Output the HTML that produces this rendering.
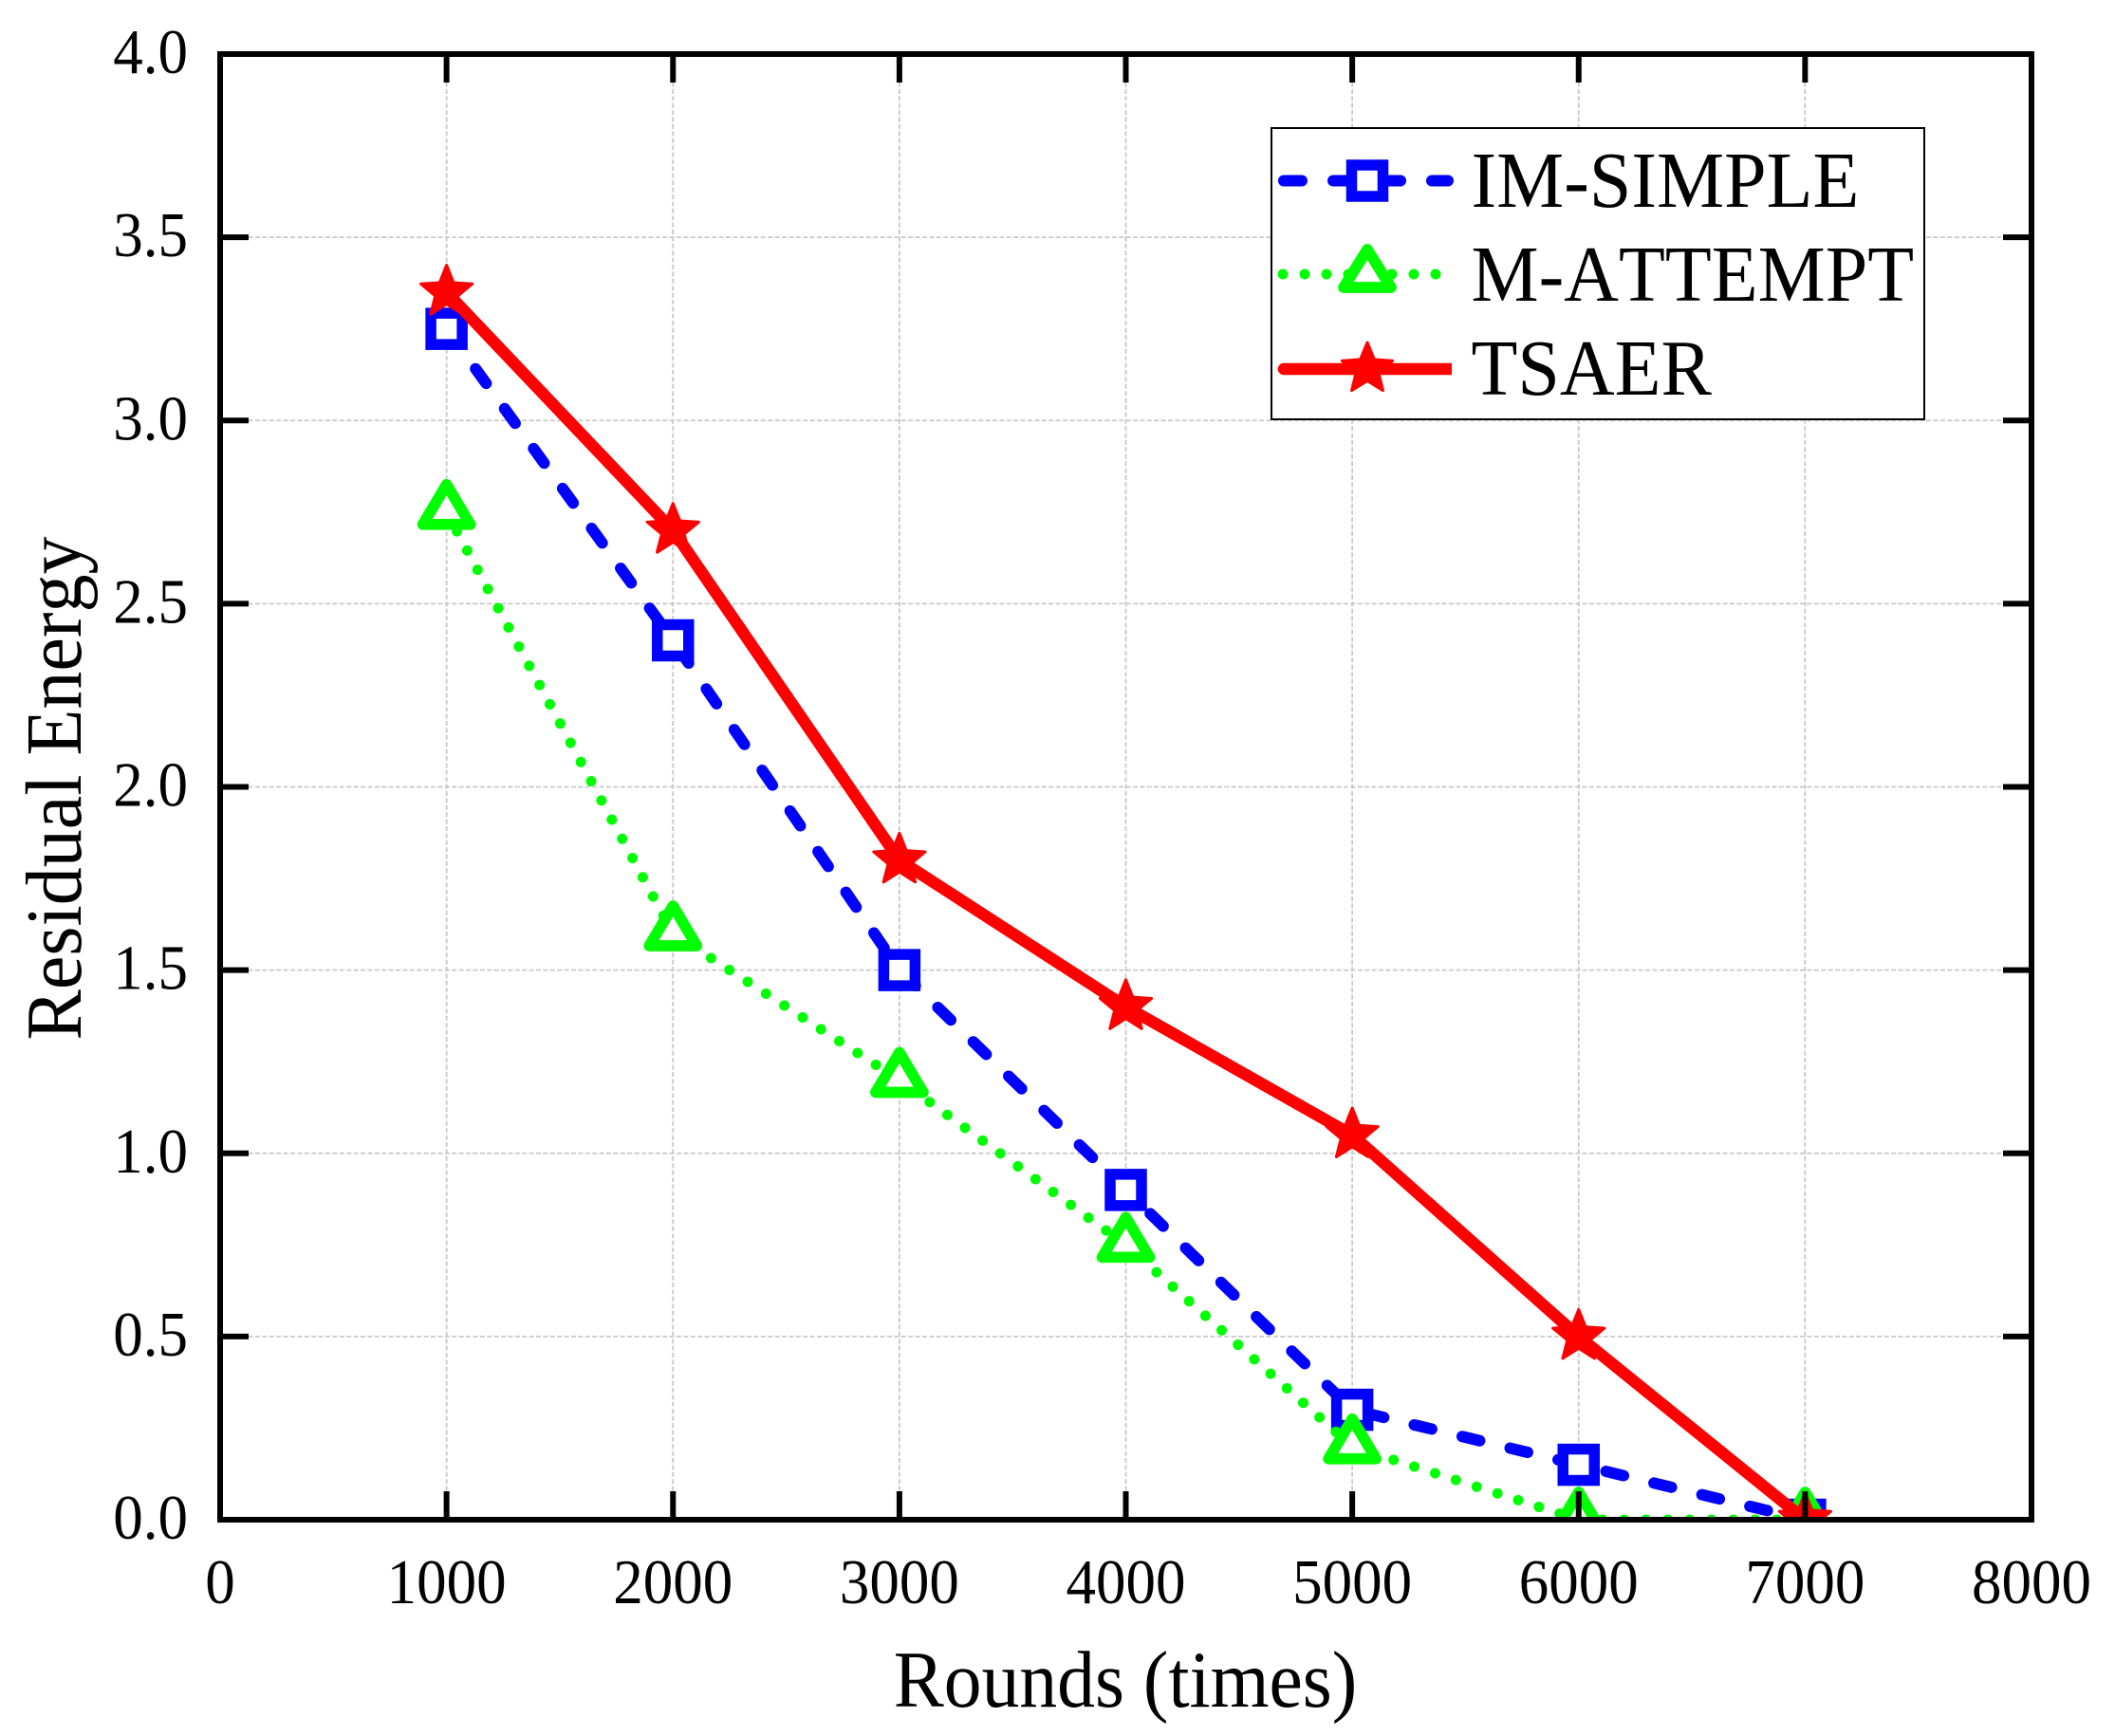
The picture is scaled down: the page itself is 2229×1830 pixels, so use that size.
<!DOCTYPE html>
<html lang="en">
<head>
<meta charset="utf-8">
<title>Residual Energy vs Rounds</title>
<style>
html,body{margin:0;padding:0;background:#fff}
svg{display:block}
text{font-family:"Liberation Serif","Times New Roman",serif;fill:#000;font-kerning:none}
</style>
</head>
<body>
<svg id="chart" xmlns="http://www.w3.org/2000/svg" width="2229" height="1830" viewBox="0 0 2229 1830">
  <rect x="0" y="0" width="2229" height="1830" fill="#fff"/>
  <defs>
    <clipPath id="plot-clip"><rect x="232" y="57" width="1909" height="1545"/></clipPath>
  </defs>
  <g id="grid"></g>
  <g id="series" clip-path="url(#plot-clip)"></g>
  <g id="axes"></g>
  <g id="legend">
    <rect x="1340" y="135" width="688" height="307" fill="#fff" stroke="#000" stroke-width="2"/>
    <line x1="1353" y1="190.5" x2="1526" y2="190.5" stroke="#0000ff" stroke-width="12" stroke-linecap="round" stroke-dasharray="19 33"/>
    <rect x="1424.5" y="174" width="33" height="33" fill="#fff" stroke="#0000ff" stroke-width="11.5"/>
    <line x1="1352" y1="289" x2="1520" y2="289" stroke="#00ff00" stroke-width="11" stroke-linecap="round" stroke-dasharray="0 23"/>
    <path d="M1441 263 L1466 303 L1416 303 Z" fill="#fff" stroke="#00ff00" stroke-width="11.7" stroke-linejoin="round"/>
    <line x1="1353" y1="389" x2="1530" y2="389" stroke="#ff0000" stroke-width="12.5"/>
    <circle cx="1353" cy="389" r="6.25" fill="#ff0000"/>
    <path id="legend-star" d="" fill="#ff0000" stroke="#ff0000" stroke-width="3" stroke-linejoin="round"/>
    <text transform="translate(1550.5 218) scale(1 1.05)" font-size="80">IM-SIMPLE</text>
    <text transform="translate(1550.5 317) scale(1 1.05)" font-size="80">M-ATTEMPT</text>
    <text transform="translate(1550.5 416) scale(1 1.05)" font-size="80">TSAER</text>
  </g>
</svg>
<script>
const rounds = [1000, 2000, 3000, 4000, 5000, 6000, 7000];
const imSimple = [3.25, 2.4, 1.5, 0.9, 0.3, 0.15, 0];
const mAttempt = [2.75, 1.6, 1.2, 0.75, 0.2, 0, 0];
const tsaer = [3.35, 2.7, 1.8, 1.4, 1.05, 0.5, 0];
const xTicks = [0, 1000, 2000, 3000, 4000, 5000, 6000, 7000, 8000];
const yTicks = [0, 0.5, 1, 1.5, 2, 2.5, 3, 3.5, 4];
const xTickLabels = ['0', '1000', '2000', '3000', '4000', '5000', '6000', '7000', '8000'];
const yTickLabels = ['0.0', '0.5', '1.0', '1.5', '2.0', '2.5', '3.0', '3.5', '4.0'];

const NS = 'http://www.w3.org/2000/svg';
const plot = { left: 232, right: 2141, top: 57, bottom: 1602 };
const xDomain = [0, 8000];
const yDomain = [0, 4];
function xScale(v) { return plot.left + (v - xDomain[0]) / (xDomain[1] - xDomain[0]) * (plot.right - plot.left); }
function yScale(v) { return plot.bottom - (v - yDomain[0]) / (yDomain[1] - yDomain[0]) * (plot.bottom - plot.top); }
function make(tag, attrs, parent) {
  const el = document.createElementNS(NS, tag);
  for (const k in attrs) el.setAttribute(k, attrs[k]);
  parent.appendChild(el);
  return el;
}
function starPath(cx, cy, R, r) {
  let d = '';
  for (let i = 0; i < 10; i++) {
    const rad = i % 2 === 0 ? R : r;
    const a = -Math.PI / 2 + i * Math.PI / 5;
    d += (i === 0 ? 'M' : 'L') + (cx + rad * Math.cos(a)).toFixed(2) + ' ' + (cy + rad * Math.sin(a)).toFixed(2) + ' ';
  }
  return d + 'Z';
}
function polyPoints(values) {
  return values.map(function (v, i) { return xScale(rounds[i]).toFixed(2) + ',' + yScale(v).toFixed(2); }).join(' ');
}

document.getElementById('legend-star').setAttribute('d', starPath(1441, 389, 28, 12.5));

const grid = document.getElementById('grid');
const series = document.getElementById('series');
const axes = document.getElementById('axes');
const gridStyle = { stroke: '#c8c8c8', 'stroke-width': 1.8, 'stroke-dasharray': '5 2.4' };

xTicks.forEach(function (t, i) {
  const x = xScale(t);
  if (t !== xDomain[0] && t !== xDomain[1]) {
    const g = make('line', Object.assign({ x1: x, x2: x, y1: plot.top, y2: plot.bottom }, gridStyle), grid);
    
    
    const tb = make('line', { x1: x, x2: x, y1: plot.bottom, y2: plot.bottom - 30, stroke: '#000', 'stroke-width': 6 }, axes);
    
    
    const tt = make('line', { x1: x, x2: x, y1: plot.top, y2: plot.top + 30, stroke: '#000', 'stroke-width': 6 }, axes);
    
    
  }
  const lab = make('text', { transform: 'translate(' + x + ' 1690) scale(1 1.06)', 'font-size': 63, 'text-anchor': 'middle' }, axes);
  
  
  lab.textContent = xTickLabels[i];
});

yTicks.forEach(function (t, i) {
  const y = yScale(t);
  if (t !== yDomain[0] && t !== yDomain[1]) {
    const g = make('line', Object.assign({ x1: plot.left, x2: plot.right, y1: y, y2: y }, gridStyle), grid);
    
    
    const tl = make('line', { x1: plot.left, x2: plot.left + 30, y1: y, y2: y, stroke: '#000', 'stroke-width': 6 }, axes);
    
    
    const tr = make('line', { x1: plot.right, x2: plot.right - 30, y1: y, y2: y, stroke: '#000', 'stroke-width': 6 }, axes);
    
    
  }
  const lab = make('text', { transform: 'translate(198 ' + (y + 20) + ') scale(1 1.06)', 'font-size': 63, 'text-anchor': 'end' }, axes);
  
  
  lab.textContent = yTickLabels[i];
});

const frame = make('rect', { x: plot.left, y: plot.top, width: plot.right - plot.left, height: plot.bottom - plot.top, fill: 'none', stroke: '#000', 'stroke-width': 6 }, axes);



const xTitle = make('text', { transform: 'translate(1186 1799) scale(1 1.07)', 'font-size': 79.6, 'text-anchor': 'middle' }, axes);


xTitle.textContent = 'Rounds (times)';

const yTitle = make('text', { transform: 'translate(85 831) rotate(-90) scale(1 1.05)', 'font-size': 80, 'text-anchor': 'middle' }, axes);


yTitle.textContent = 'Residual Energy';

// IM-SIMPLE
const blueLine = make('polyline', { points: polyPoints(imSimple), fill: 'none', stroke: '#0000ff', 'stroke-width': 12, 'stroke-linecap': 'round', 'stroke-dasharray': '19 33' }, series);


imSimple.forEach(function (v, i) {
  const m = make('rect', { x: xScale(rounds[i]) - 16.5, y: yScale(v) - 16.5, width: 33, height: 33, fill: '#fff', stroke: '#0000ff', 'stroke-width': 11.5 }, series);
  
  
});

// M-ATTEMPT
const greenLine = make('polyline', { points: polyPoints(mAttempt), fill: 'none', stroke: '#00ff00', 'stroke-width': 11, 'stroke-linecap': 'round', 'stroke-dasharray': '0 23' }, series);


mAttempt.forEach(function (v, i) {
  const x = xScale(rounds[i]);
  const y = yScale(v);
  const m = make('path', { d: 'M' + x + ' ' + (y - 29) + ' L' + (x + 25) + ' ' + (y + 13) + ' L' + (x - 25) + ' ' + (y + 13) + ' Z', fill: '#fff', stroke: '#00ff00', 'stroke-width': 11.7, 'stroke-linejoin': 'round' }, series);
  
  
});

// TSAER
const redLine = make('polyline', { points: polyPoints(tsaer), fill: 'none', stroke: '#ff0000', 'stroke-width': 12.5 }, series);


tsaer.forEach(function (v, i) {
  const m = make('path', { d: starPath(xScale(rounds[i]), yScale(v), 28.5, 12.5), fill: '#ff0000', stroke: '#ff0000', 'stroke-width': 3, 'stroke-linejoin': 'round' }, series);
  
  
});
</script>
</body>
</html>
